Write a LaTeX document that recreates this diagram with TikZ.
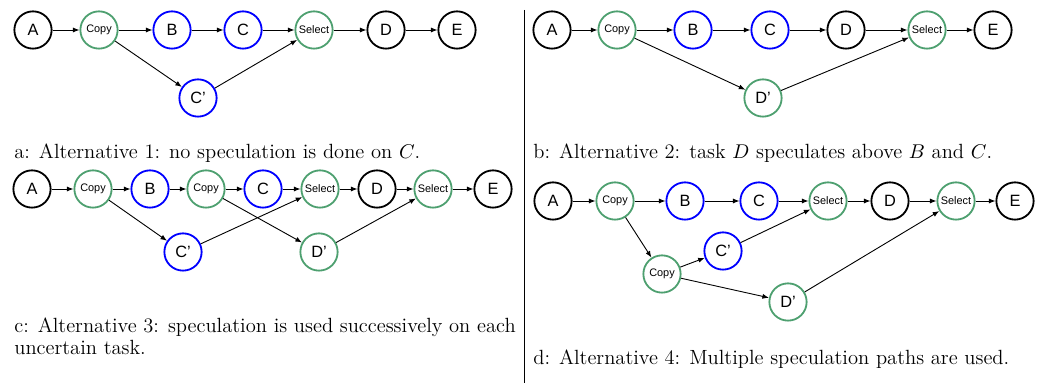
\documentclass[tikz,border=0pt]{standalone}
\usepackage{fontspec}
\setsansfont{Liberation Sans}
\usetikzlibrary{arrows.meta}

\definecolor{copygreen}{RGB}{78,160,112}
\definecolor{taskblue}{RGB}{0,0,255}

\tikzset{
  task/.style={circle, draw=black, line width=1pt, minimum size=20.5pt, inner sep=0pt, font=\sffamily\fontsize{9}{10}\selectfont},
  uncertain/.style={task, draw=taskblue},
  spec/.style={task, draw=copygreen},
  ctrl/.style={task, draw=copygreen, font=\sffamily\fontsize{6}{7}\selectfont},
  flow/.style={-{Latex[length=3.6pt,width=2.8pt]}, line width=0.5pt},
  caption/.style={anchor=base west, inner sep=0pt, font=\fontsize{11.3}{12.2}\selectfont, align=left}
}

\begin{document}
\begin{tikzpicture}[x=0.55pt,y=-0.55pt]
  \useasboundingbox (0,0) rectangle (1042,383);
  \draw[line width=0.5pt] (524,10) -- (524,383);

  \node[task] (aA) at (33,30) {A};
  \node[ctrl] (aCopy) at (99,30) {Copy};
  \node[uncertain] (aB) at (172,30) {B};
  \node[uncertain] (aC) at (243,30) {C};
  \node[ctrl] (aSel) at (314,30) {Select};
  \node[task] (aD) at (386,30) {D};
  \node[task] (aE) at (457,30) {E};
  \node[uncertain] (aCp) at (198,98) {C'};
  \draw[flow] (aA) -- (aCopy);
  \draw[flow] (aCopy) -- (aB);
  \draw[flow] (aB) -- (aC);
  \draw[flow] (aC) -- (aSel);
  \draw[flow] (aSel) -- (aD);
  \draw[flow] (aD) -- (aE);
  \draw[flow] (aCopy) -- (aCp);
  \draw[flow] (aCp) -- (aSel);
  \node[caption] (capa) at (14,159) {a: Alternative 1: no speculation is done on $C$.};

  \node[task] (bA) at (552,30) {A};
  \node[ctrl] (bCopy) at (617,30) {Copy};
  \node[uncertain] (bB) at (693,30) {B};
  \node[uncertain] (bC) at (770,30) {C};
  \node[task] (bD) at (846,30) {D};
  \node[ctrl] (bSel) at (927,30) {Select};
  \node[task] (bE) at (993,30) {E};
  \node[spec] (bDp) at (763,98) {D'};
  \draw[flow] (bA) -- (bCopy);
  \draw[flow] (bCopy) -- (bB);
  \draw[flow] (bB) -- (bC);
  \draw[flow] (bC) -- (bD);
  \draw[flow] (bD) -- (bSel);
  \draw[flow] (bSel) -- (bE);
  \draw[flow] (bCopy) -- (bDp);
  \draw[flow] (bDp) -- (bSel);
  \node[caption] (capb) at (533,159) {b: Alternative 2: task $D$ speculates above $B$ and $C$.};

  \node[task] (cA) at (32,189) {A};
  \node[ctrl] (cCopy) at (93,189) {Copy};
  \node[uncertain] (cB) at (150,189) {B};
  \node[ctrl] (cCopyb) at (206,189) {Copy};
  \node[uncertain] (cC) at (263,189) {C};
  \node[ctrl] (cSel) at (320,189) {Select};
  \node[task] (cD) at (377,189) {D};
  \node[ctrl] (cSelb) at (433,189) {Select};
  \node[task] (cE) at (493,189) {E};
  \node[uncertain] (cCp) at (183,252) {C'};
  \node[spec] (cDp) at (319,252) {D'};
  \draw[flow] (cA) -- (cCopy);
  \draw[flow] (cCopy) -- (cB);
  \draw[flow] (cB) -- (cCopyb);
  \draw[flow] (cCopyb) -- (cC);
  \draw[flow] (cC) -- (cSel);
  \draw[flow] (cSel) -- (cD);
  \draw[flow] (cD) -- (cSelb);
  \draw[flow] (cSelb) -- (cE);
  \draw[flow] (cCopy) -- (cCp);
  \draw[flow] (cCp) -- (cSel);
  \draw[flow] (cCopyb) -- (cDp);
  \draw[flow] (cDp) -- (cSelb);
  \node[caption] (capc) at (14,355) {c: Alternative 3: speculation is used successively on each\\uncertain task.};

  \node[task] (dA) at (553,201) {A};
  \node[ctrl] (dCopy) at (615,201) {Copy};
  \node[uncertain] (dB) at (685,201) {B};
  \node[uncertain] (dC) at (759,201) {C};
  \node[ctrl] (dSel) at (828,201) {Select};
  \node[task] (dD) at (890,201) {D};
  \node[ctrl] (dSelb) at (956,201) {Select};
  \node[task] (dE) at (1015,201) {E};
  \node[ctrl] (dCopyb) at (662,274) {Copy};
  \node[uncertain] (dCp) at (723,251) {C'};
  \node[spec] (dDp) at (788,302) {D'};
  \draw[flow] (dA) -- (dCopy);
  \draw[flow] (dCopy) -- (dB);
  \draw[flow] (dB) -- (dC);
  \draw[flow] (dC) -- (dSel);
  \draw[flow] (dSel) -- (dD);
  \draw[flow] (dD) -- (dSelb);
  \draw[flow] (dSelb) -- (dE);
  \draw[flow] (dCopy) -- (dCopyb);
  \draw[flow] (dCopyb) -- (dCp);
  \draw[flow] (dCopyb) -- (dDp);
  \draw[flow] (dCp) -- (dSel);
  \draw[flow] (dDp) -- (dSelb);
  \node[caption] (capd) at (533,365) {d: Alternative 4: Multiple speculation paths are used.};
\end{tikzpicture}
\end{document}
